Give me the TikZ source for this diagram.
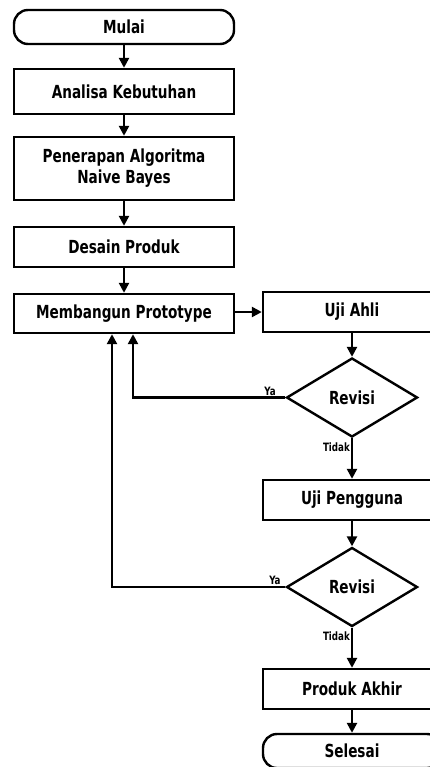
\documentclass[tikz,border=0pt]{standalone}
\usepackage{fontspec}
\setmainfont{DejaVu Sans Condensed}[BoldFont={DejaVu Sans Condensed Bold},BoldFeatures={FakeStretch=0.84}]
\usetikzlibrary{shapes.geometric,arrows.meta}
\begin{document}
\begin{tikzpicture}[x=1pt,y=-1pt,
  every node/.style={font=\bfseries\fontsize{18}{21}\selectfont},
  proc/.style={draw,line width=2.4pt,rectangle,minimum width=220pt,align=center,inner sep=0pt},
  rproc/.style={draw,line width=2.4pt,rectangle,minimum width=178pt,minimum height=40pt,inner sep=0pt},
  term/.style={draw,line width=2.4pt,rounded corners=14pt,minimum height=34pt,inner sep=0pt},
  dec/.style={draw,line width=2.4pt,diamond,aspect=1.66,minimum width=131pt,minimum height=79pt,inner sep=0pt},
  lbl/.style={font=\bfseries\fontsize{11.5}{13}\selectfont,inner sep=1pt},
  arr/.style={line width=2.4pt,-{Triangle[length=10pt,width=10pt]}}]
\useasboundingbox (0,0) rectangle (430,767);
\clip (0,0) rectangle (430,767);
\node[term,minimum width=220pt] (mulai) at (124,27) {Mulai};
\node[proc,minimum height=45pt] (analisa) at (124,91.5) {Analisa Kebutuhan};
\node[proc,minimum height=63pt] (penerapan) at (124,168.5) {Penerapan Algoritma\\Naive Bayes};
\node[proc,minimum height=40pt] (desain) at (124,247) {Desain Produk};
\node[proc,minimum height=39pt] (membangun) at (124,313.5) {Membangun Prototype};
\node[rproc] (ujiahli) at (352,312) {Uji Ahli};
\node[dec] (rev1) at (352,397.5) {Revisi};
\node[rproc] (ujipengguna) at (352,500) {Uji Pengguna};
\node[dec] (rev2) at (352,587) {Revisi};
\node[rproc] (produk) at (352,689) {Produk Akhir};
\node[term,minimum width=178pt] (selesai) at (352,751) {Selesai};
\coordinate (f1) at (133,397.5);
\coordinate (f2) at (112,587);
\draw[arr] (mulai) -- (analisa);
\draw[arr] (analisa) -- (penerapan);
\draw[arr] (penerapan) -- (desain);
\draw[arr] (desain) -- (membangun);
\draw[arr] (membangun.east |- ujiahli) -- (ujiahli);
\draw[arr] (ujiahli) -- (rev1);
\draw[arr] (rev1) -- node[lbl,pos=0.22,left] {Tidak} (ujipengguna);
\draw[arr] (ujipengguna) -- (rev2);
\draw[arr] (rev2) -- node[lbl,pos=0.22,left] {Tidak} (produk);
\draw[arr] (produk) -- (selesai);
\draw[arr] (rev1.west) -- node[lbl,pos=0.1,above] {Ya} (f1) -- (f1 |- membangun.south);
\draw[arr] (rev2.west) -- node[lbl,pos=0.06,above] {Ya} (f2) -- (f2 |- membangun.south);
\end{tikzpicture}
\end{document}
